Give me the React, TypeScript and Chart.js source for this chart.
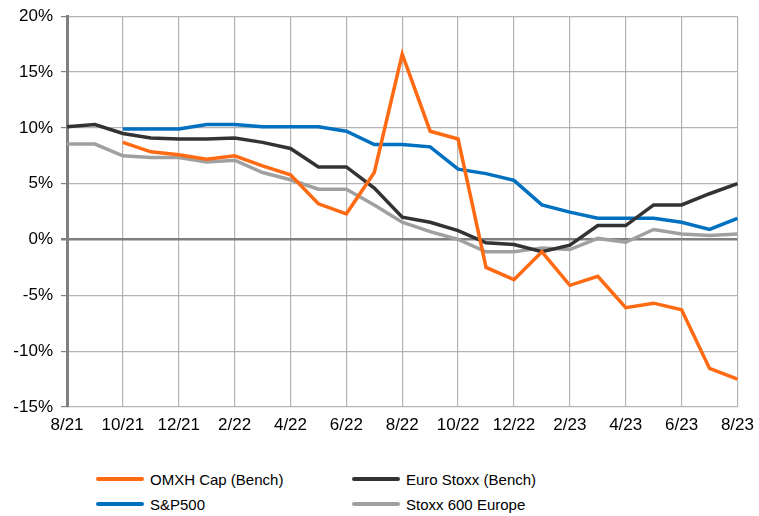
import React, { useEffect, useRef } from "react";
import { Chart, registerables } from "chart.js";

Chart.register(...registerables);

const months = [
  "8/21", "9/21", "10/21", "11/21", "12/21", "1/22", "2/22", "3/22", "4/22", "5/22", "6/22", "7/22",
  "8/22", "9/22", "10/22", "11/22", "12/22", "1/23", "2/23", "3/23", "4/23", "5/23", "6/23", "7/23", "8/23",
];

const omxh = [null, null, 8.7, 7.85, 7.6, 7.2, 7.5, 6.6, 5.8, 3.2, 2.3, 6.0, 16.6, 9.7, 9.0, -2.5, -3.6, -1.1, -4.1, -3.3, -6.1, -5.7, -6.3, -11.55, -12.5];
const euroStoxx = [10.1, 10.3, 9.5, 9.1, 9.0, 9.0, 9.1, 8.7, 8.15, 6.5, 6.5, 4.6, 2.0, 1.55, 0.8, -0.3, -0.45, -1.1, -0.5, 1.25, 1.25, 3.1, 3.1, 4.1, 5.0];
const sp500 = [null, null, 9.9, 9.9, 9.9, 10.3, 10.3, 10.1, 10.1, 10.1, 9.7, 8.5, 8.5, 8.3, 6.3, 5.9, 5.3, 3.1, 2.45, 1.9, 1.9, 1.9, 1.55, 0.9, 1.9];
const stoxx600 = [8.55, 8.55, 7.5, 7.35, 7.35, 6.95, 7.1, 6.0, 5.35, 4.5, 4.5, 3.1, 1.55, 0.7, 0.0, -1.1, -1.1, -0.75, -0.9, 0.1, -0.25, 0.9, 0.5, 0.35, 0.5];

const seriesNames = ["OMXH Cap (Bench)", "Euro Stoxx (Bench)", "S&P500", "Stoxx 600 Europe"];
const seriesColors = ["#FF6A13", "#333333", "#0070C0", "#A0A0A0"];
const seriesData = [omxh, euroStoxx, sp500, stoxx600];

const yMin = -15;
const yMax = 20;
const yStep = 5;

export default function App() {
  const ref = useRef<HTMLCanvasElement | null>(null);

  useEffect(() => {
    if (!ref.current) return;
    const chart = new Chart(ref.current, {
      type: "line",
      data: {
        labels: months,
        datasets: seriesData.map((d, i) => ({
          label: seriesNames[i],
          data: d,
          borderColor: seriesColors[i],
          backgroundColor: seriesColors[i],
          borderWidth: 3.5,
          pointRadius: 0,
          tension: 0,
          fill: false,
          order: i,
        })),
      },
      options: {
        animation: false,
        responsive: true,
        maintainAspectRatio: false,
        layout: { padding: { top: 6, right: 3, left: 0, bottom: 0 } },
        plugins: { legend: { display: false }, tooltip: { enabled: false } },
        scales: {
          x: {
            border: { display: false },
            grid: {
              color: (ctx: any) => (ctx.index % 2 === 0 ? "#b4b4b4" : "rgba(0,0,0,0)"),
              lineWidth: 1.2,
              drawTicks: false,
            },
            ticks: {
              autoSkip: false,
              maxRotation: 0,
              minRotation: 0,
              padding: 8,
              color: "#000",
              font: { family: "Liberation Sans, Arial, sans-serif", size: 17 },
              callback: (_v: any, i: number) => (i % 2 === 0 ? months[i] : ""),
            },
            afterFit: (scale: any) => {
              scale.height = 41;
            },
          },
          y: {
            min: yMin,
            max: yMax,
            border: { display: true, color: "#808080", width: 3 },
            grid: {
              color: (ctx: any) => (ctx.tick && ctx.tick.value === 0 ? "#7f7f7f" : "#b4b4b4"),
              lineWidth: (ctx: any) => (ctx.tick && ctx.tick.value === 0 ? 2.5 : 1.2),
              tickLength: 6,
              tickColor: "#808080",
            },
            ticks: {
              stepSize: yStep,
              padding: 8,
              color: "#000",
              font: { family: "Liberation Sans, Arial, sans-serif", size: 17 },
              callback: (v: any) => `${v}%`,
            },
            afterFit: (scale: any) => {
              scale.width = 67;
            },
          },
        },
      },
    });
    return () => chart.destroy();
  }, []);

  const legendPos = [
    { left: 96, top: 479 },
    { left: 352, top: 479 },
    { left: 96, top: 504 },
    { left: 352, top: 504 },
  ];

  return (
    <div
      style={{
        position: "absolute",
        left: 0,
        top: 0,
        width: 759,
        height: 516,
        overflow: "hidden",
        background: "#fff",
        fontFamily: "Liberation Sans, Arial, sans-serif",
      }}
    >
      <div style={{ position: "absolute", left: 0, top: -2, width: 762, height: 450 }}>
        <canvas ref={ref} />
      </div>
      {seriesNames.map((name, i) => (
        <div
          key={name}
          style={{
            position: "absolute",
            left: legendPos[i].left,
            top: legendPos[i].top - 10,
            height: 20,
            display: "flex",
            alignItems: "center",
            whiteSpace: "nowrap",
            fontSize: 15,
            color: "#000",
          }}
        >
          <span
            style={{
              display: "inline-block",
              width: 48,
              height: 4,
              borderRadius: 2,
              background: seriesColors[i],
              marginRight: 6,
            }}
          />
          <span>{name}</span>
        </div>
      ))}
    </div>
  );
}
